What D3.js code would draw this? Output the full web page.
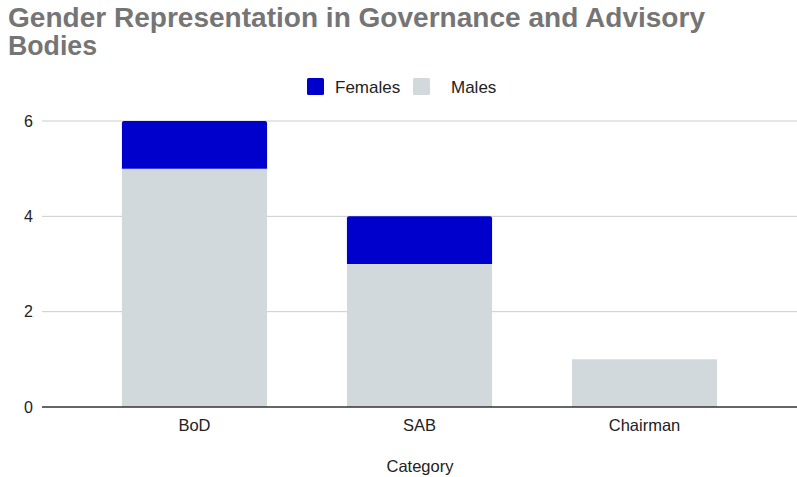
<!DOCTYPE html>
<html><head><meta charset="utf-8">
<script src="https://cdn.jsdelivr.net/npm/d3@7"></script>
<style>body{margin:0;background:#fff}svg{display:block;font-family:"Liberation Sans",Arial,sans-serif}</style>
</head><body>
<svg id="c" width="797" height="477"></svg>
<script>
const categories = ["BoD", "SAB", "Chairman"];
const males = [5, 3, 1];
const females = [1, 1, 0];
const yTicks = [0, 2, 4, 6];
const seriesNames = ["Females", "Males"];
const colors = {Females: "#0000cc", Males: "#d1d9dc"};

const svg = d3.select("#c");
const W = 797, H = 477;
const x = d3.scaleBand().domain(categories).range([82, 757]).paddingInner(0.355).paddingOuter(0.1775);
const y = d3.scaleLinear().domain([0, 6]).range([407, 121]);

svg.append("text").attr("x", 8).attr("y", 27).attr("font-size", 27).attr("font-weight", "bold").attr("fill", "#757575")
  .attr("textLength", 697).attr("lengthAdjust", "spacingAndGlyphs").text("Gender Representation in Governance and Advisory");
svg.append("text").attr("x", 8).attr("y", 55).attr("font-size", 27).attr("font-weight", "bold").attr("fill", "#757575")
  .attr("textLength", 89).attr("lengthAdjust", "spacingAndGlyphs").text("Bodies");

// gridlines
svg.append("g").selectAll("line").data(yTicks.filter(d => d > 0)).join("line")
  .attr("x1", 42).attr("x2", W).attr("y1", d => y(d)).attr("y2", d => y(d))
  .attr("stroke", "#cccccc").attr("stroke-width", 1);

// y labels
svg.append("g").selectAll("text").data(yTicks).join("text")
  .attr("x", 33).attr("y", d => y(d) + 5.5).attr("text-anchor", "end").attr("font-size", 16).attr("fill", "#222").text(d => d);

const data = categories.map((c, i) => ({c, Males: males[i], Females: females[i]}));
const stack = d3.stack().keys(["Males", "Females"])(data);

stack.forEach(layer => {
  svg.append("g").selectAll("path").data(layer).join("path")
    .attr("fill", colors[layer.key])
    .attr("d", d => {
      const x0 = x(d.data.c), w = x.bandwidth();
      const top = y(d[1]), bot = y(d[0]);
      if (d[1] - d[0] <= 0) return "";
      const r = layer.key === "Females" ? 2 : 0;
      return `M${x0},${bot}V${top + r}Q${x0},${top} ${x0 + r},${top}H${x0 + w - r}Q${x0 + w},${top} ${x0 + w},${top + r}V${bot}Z`;
    });
});

// baseline
svg.append("line").attr("x1", 42).attr("x2", W).attr("y1", y(0)).attr("y2", y(0)).attr("stroke", "#333").attr("stroke-width", 1.5);

// x labels
svg.append("g").selectAll("text").data(categories).join("text")
  .attr("x", d => x(d) + x.bandwidth() / 2).attr("y", 431).attr("text-anchor", "middle").attr("font-size", 16.5).attr("fill", "#222").text(d => d);

svg.append("text").attr("x", 420).attr("y", 472).attr("text-anchor", "middle").attr("font-size", 16.5).attr("fill", "#222").text("Category");

// legend
const leg = [{n: "Females", sx: 307, tx: 335}, {n: "Males", sx: 413, tx: 451}];
leg.forEach(l => {
  svg.append("rect").attr("x", l.sx).attr("y", 78).attr("width", 17).attr("height", 17).attr("rx", 1.5).attr("fill", colors[l.n]);
  svg.append("text").attr("x", l.tx).attr("y", 92.5).attr("font-size", 17).attr("fill", "#222").text(l.n);
});
</script>
</body></html>
